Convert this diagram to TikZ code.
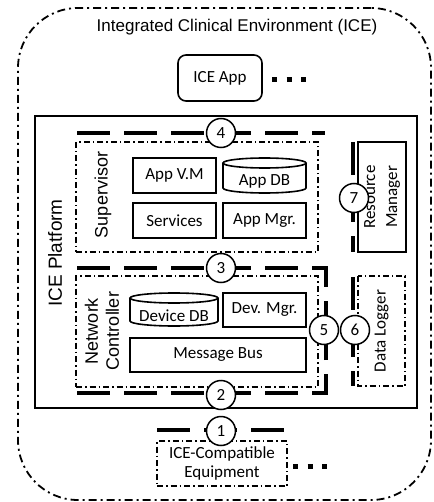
\documentclass[tikz,border=0pt]{standalone}
\usepackage{fontspec}
\setmainfont{Carlito}
\newfontfamily\arialfont{Liberation Sans}
\begin{document}
\begin{tikzpicture}[x=1pt,y=-1pt,
  box/.style={draw, line width=1.6pt, fill=white, inner sep=0pt,
    font=\fontsize{17}{20}\selectfont, align=center},
  dashdotbox/.style={draw, line width=1.3pt, inner sep=0pt,
    dash pattern=on 6pt off 3pt on 1.5pt off 3pt},
  outerbox/.style={draw, line width=1.8pt, rounded corners=60pt, inner sep=0pt,
    dash pattern=on 8pt off 4pt on 2pt off 4pt},
  busline/.style={line width=4.5pt, dash pattern=on 33pt off 14pt},
  dotrow/.style={line width=5pt, dash pattern=on 5pt off 9.5pt},
  num/.style={circle, draw, fill=white, line width=1.5pt, minimum size=29pt,
    inner sep=0pt, font=\fontsize{17}{20}\selectfont},
  sanslabel/.style={font=\arialfont\fontsize{18}{21}\selectfont, align=center, inner sep=0pt},
  dbline/.style={line width=1.6pt}
]
\useasboundingbox (0,0) rectangle (433,502);

% environment frame and title
\node[outerbox, minimum width=413pt, minimum height=492pt] (env) at (224.5,254) {};
\node[font=\arialfont\fontsize{17}{20}\selectfont, inner sep=0pt] (title) at (237,27)
  {Integrated Clinical Environment (ICE)};

% application layer
\node[box, rounded corners=8pt, minimum width=84pt, minimum height=46pt] (iceapp) at (220,78) {ICE App};
\coordinate (appdotsA) at (272,80);
\coordinate (appdotsB) at (306,80);
\draw[dotrow] (appdotsA) -- (appdotsB);

% platform
\node[draw, line width=1.8pt, minimum width=382pt, minimum height=292pt, inner sep=0pt] (platform) at (226,262) {};
\node[sanslabel, font=\arialfont\fontsize{19}{22}\selectfont, rotate=90] (platformlbl) at (55,253) {ICE Platform};

% supervisor
\node[dashdotbox, minimum width=242pt, minimum height=110pt] (supervisor) at (197,197) {};
\node[sanslabel, rotate=90] (suplbl) at (103,195) {Supervisor};
\node[box, minimum width=83pt, minimum height=35pt] (appvm) at (174.5,175.5) {App V.M};
\node[box, minimum width=83pt, minimum height=35pt] (services) at (174.5,220.5) {Services};
\node[box, minimum width=83pt, minimum height=35pt] (appmgr) at (264.5,220.5) {App Mgr.};
% App DB cylinder
\draw[dbline] (223,163) -- (223,188) arc[start angle=180, end angle=360, x radius=41.5pt, y radius=5pt] -- (306,163);
\draw[dbline] (264.5,163) ellipse[x radius=41.5pt, y radius=5pt];
\node[font=\fontsize{17}{20}\selectfont, inner sep=0pt] (appdb) at (264.5,181) {App DB};

% network controller
\node[dashdotbox, minimum width=242pt, minimum height=111pt] (netctrl) at (197,331.5) {};
\node[sanslabel, rotate=90] (netlbl) at (102,331) {Network\\Controller};
% Device DB cylinder
\draw[dbline] (130,298) -- (130,321) arc[start angle=180, end angle=360, x radius=44pt, y radius=5pt] -- (218,298);
\draw[dbline] (174,298) ellipse[x radius=44pt, y radius=5pt];
\node[font=\fontsize{17}{20}\selectfont, inner sep=0pt] (devdb) at (174,316) {Device DB};
\node[box, minimum width=83pt, minimum height=34pt] (devmgr) at (264.5,310) {Dev. Mgr.};
\node[box, minimum width=176pt, minimum height=34pt] (msgbus) at (218,355) {Message Bus};

% resource manager and data logger
\node[box, rotate=90, minimum width=110pt, minimum height=48pt, font=\fontsize{17}{22}\selectfont] (resmgr) at (382,197) {Resource\\Manager};
\node[dashdotbox, rotate=90, minimum width=110pt, minimum height=47pt, font=\fontsize{17}{20}\selectfont] (logger) at (381.5,331) {Data Logger};

% equipment
\node[dashdotbox, minimum width=130pt, minimum height=45pt, align=center, font=\fontsize{17}{19}\selectfont] (equip) at (222,463.5) {ICE-Compatible\\Equipment};
\coordinate (eqdotsA) at (293,466);
\coordinate (eqdotsB) at (327,466);
\draw[dotrow] (eqdotsA) -- (eqdotsB);

% interface lines
\coordinate (l4a) at (77,133);   \coordinate (l4b) at (325,133);
\coordinate (l3a) at (77,268);   \coordinate (l3c) at (326,268);
\coordinate (l2a) at (77,393);   \coordinate (l2c) at (326,393);
\coordinate (l5m) at (326,330);
\coordinate (l1a) at (157,430);  \coordinate (l1b) at (286,430);
\coordinate (l7a) at (353,142);  \coordinate (l7b) at (353,252);
\coordinate (l6a) at (353,277);  \coordinate (l6b) at (353,386);

\draw[busline] (l4a) -- (l4b);
\draw[busline] (l3a) -- (l3c) -- (l5m);
\draw[busline] (l2a) -- (l2c) -- (l5m);
\draw[busline] (l1a) -- (l1b);
\draw[busline] (l7a) -- (l7b);
\draw[busline] (l6a) -- (l6b);

% interface numbers
\node[num] (n1) at (221,431) {1};
\node[num] (n2) at (221,395) {2};
\node[num] (n3) at (221,268) {3};
\node[num] (n4) at (221,133) {4};
\node[num] (n5) at (324,330) {5};
\node[num] (n6) at (355,330) {6};
\node[num] (n7) at (354,198) {7};
\end{tikzpicture}
\end{document}
